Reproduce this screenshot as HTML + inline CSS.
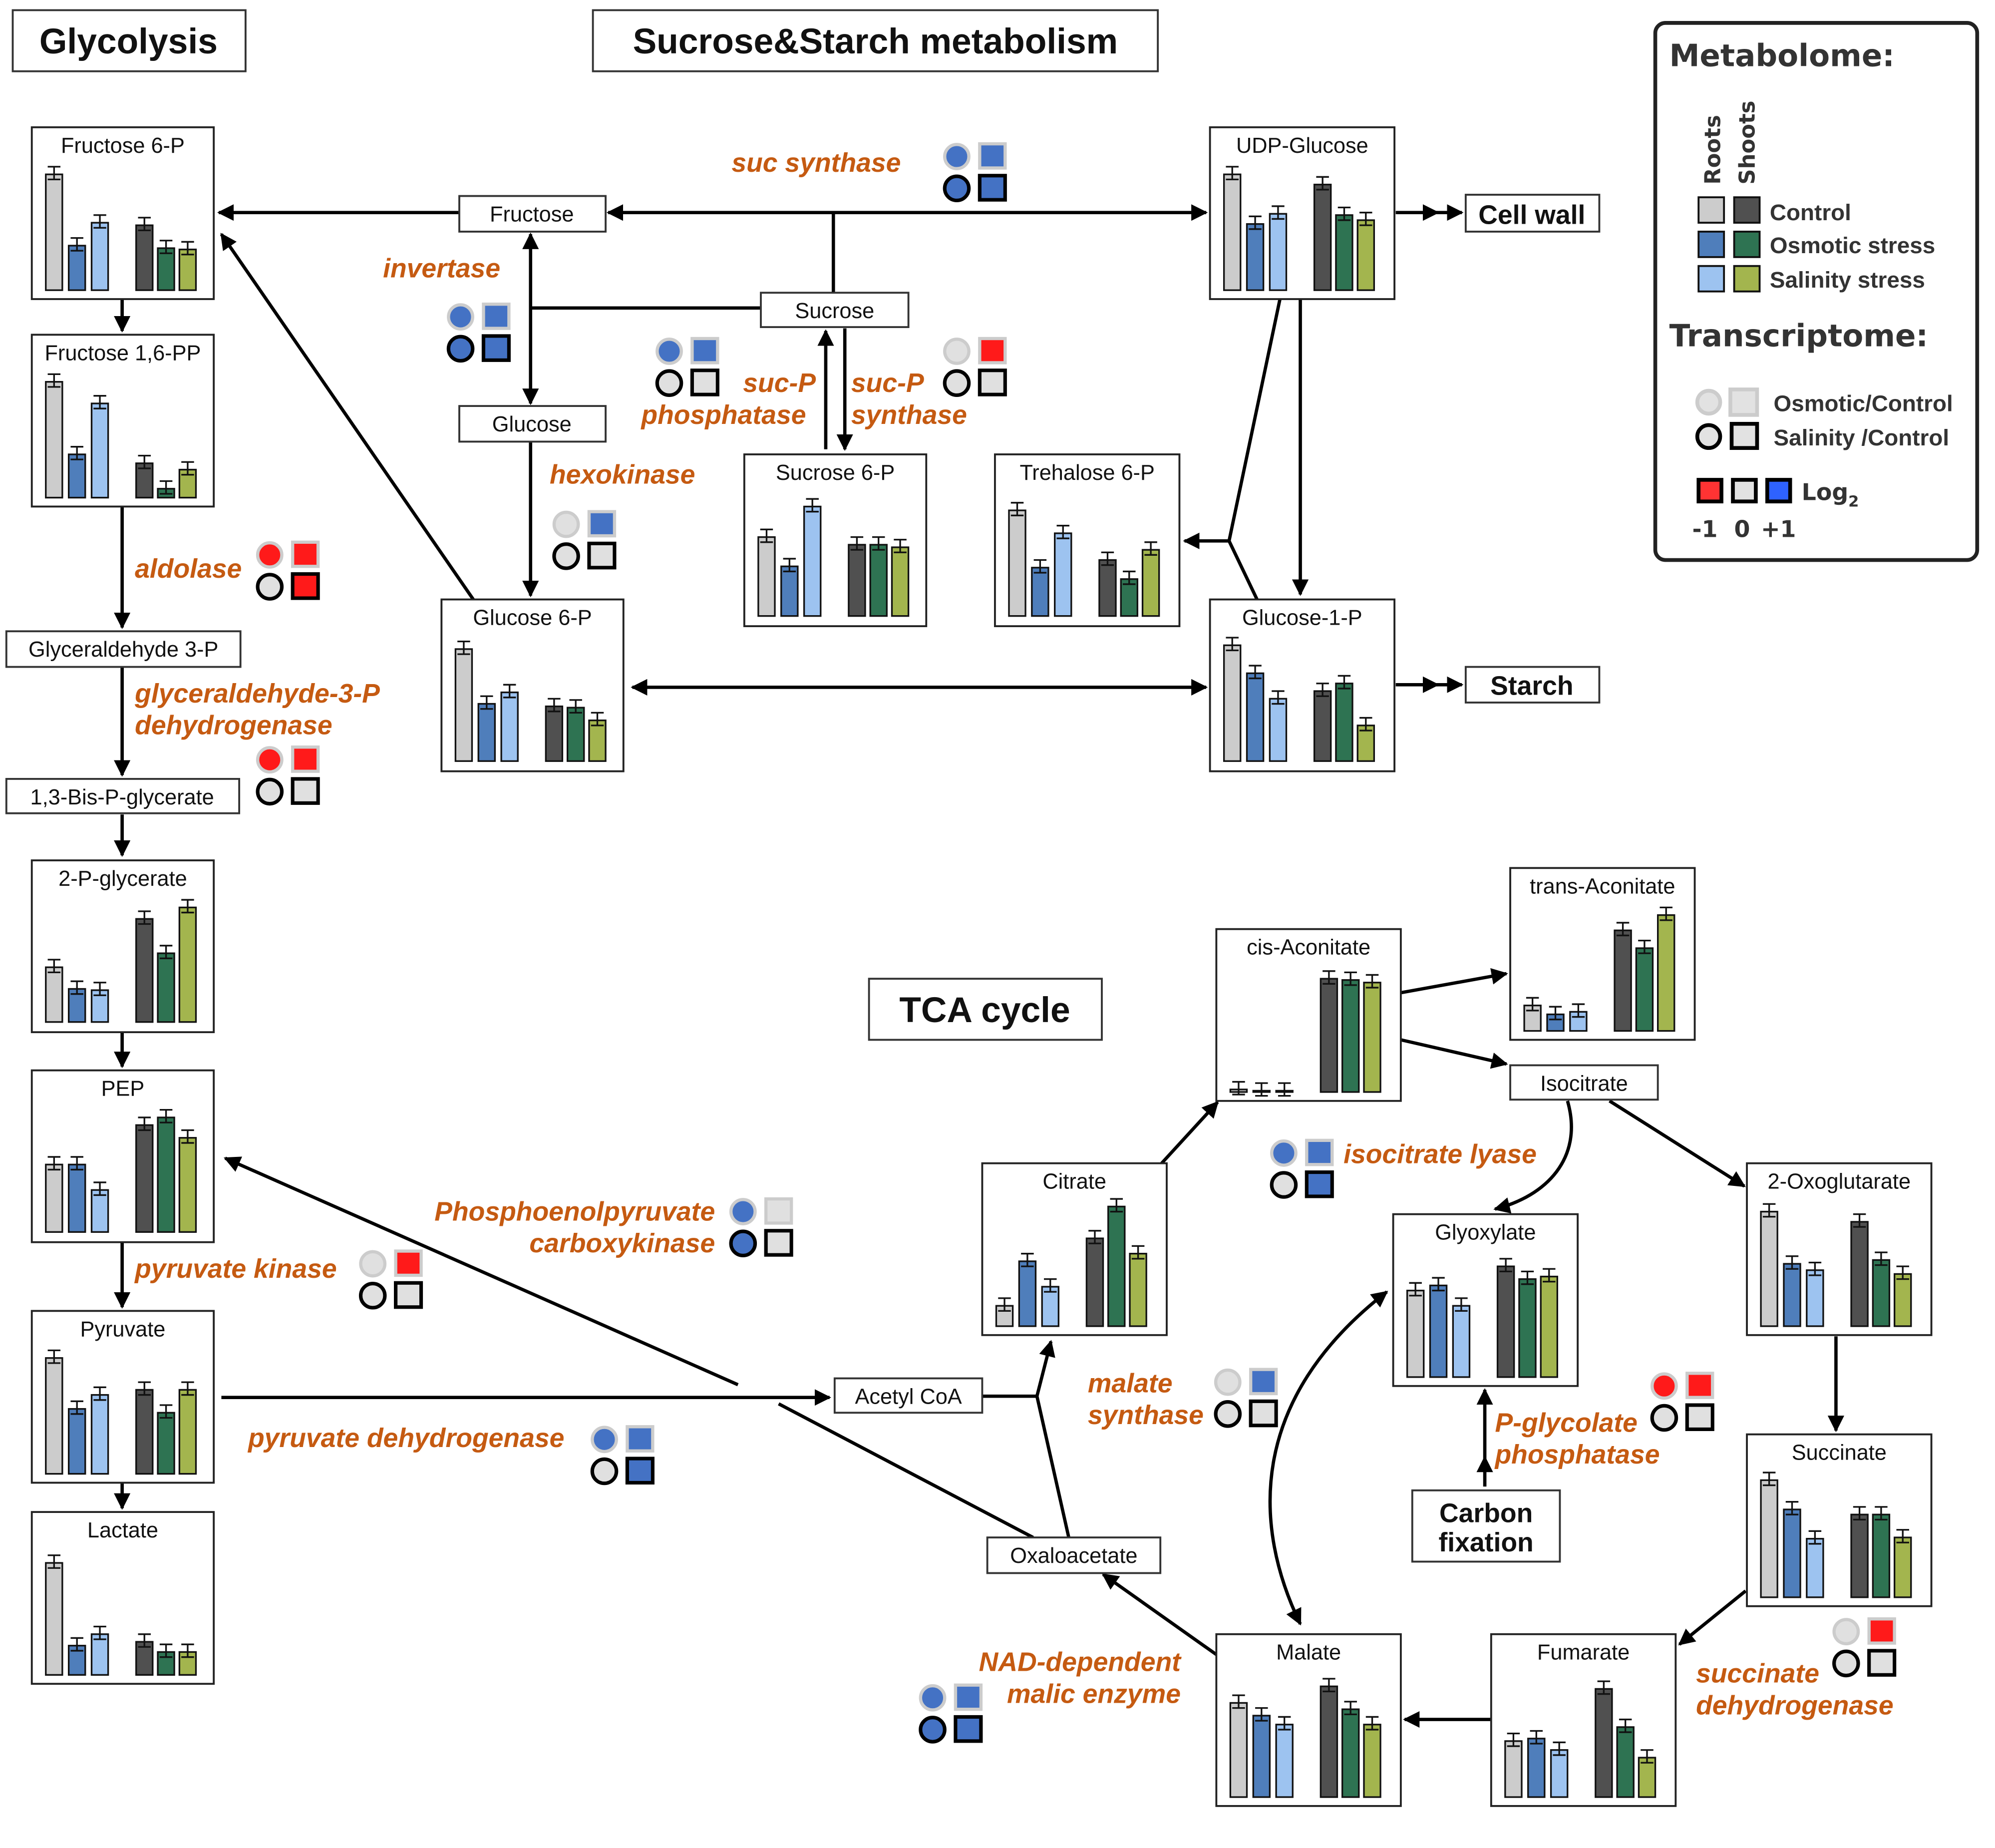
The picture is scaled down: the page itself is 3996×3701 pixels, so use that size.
<!DOCTYPE html>
<html><head><meta charset="utf-8"><style>
html,body{margin:0;padding:0;background:#fff}
svg{display:block}
text{font-family:"Liberation Sans",sans-serif}
.lbl{font-size:17px;fill:#111}
.enz{font-size:21px;font-weight:bold;font-style:italic;fill:#c55a11}
.ttl{font-size:28px;font-weight:bold;fill:#111}
.lg{font-family:"DejaVu Sans",sans-serif;font-weight:bold;fill:#333}
.ln{stroke:#000;stroke-width:2.6;fill:none}
</style></head><body>
<svg id="s" width="3996" height="3701" viewBox="0 0 1568 1452" preserveAspectRatio="none" xmlns="http://www.w3.org/2000/svg">
<defs>
<marker id="a" viewBox="0 0 10 10" refX="9" refY="5" markerWidth="5" markerHeight="5" orient="auto-start-reverse" markerUnits="strokeWidth"><path d="M0,0 L10,5 L0,10 z" fill="#000"/></marker>
</defs>
<rect width="1568" height="1452" fill="#fff"/>
<rect x="10" y="8" width="183" height="48" fill="#fff" stroke="#333" stroke-width="1.5"/>
<text x="101" y="42" text-anchor="middle" class="ttl">Glycolysis</text>
<rect x="466" y="8" width="444" height="48" fill="#fff" stroke="#333" stroke-width="1.5"/>
<text x="688" y="42" text-anchor="middle" class="ttl">Sucrose&amp;Starch metabolism</text>
<rect x="683" y="769" width="183" height="48" fill="#fff" stroke="#333" stroke-width="1.5"/>
<text x="774" y="803" text-anchor="middle" class="ttl">TCA cycle</text>

<g id="lines">
<line class="ln" x1="361" y1="167" x2="172" y2="167" marker-end="url(#a)"/>
<line class="ln" x1="478" y1="167" x2="948" y2="167" marker-start="url(#a)" marker-end="url(#a)"/>
<line class="ln" x1="655" y1="167" x2="655" y2="230"/>
<line class="ln" x1="598" y1="242" x2="417" y2="242"/>
<line class="ln" x1="417" y1="184" x2="417" y2="317" marker-start="url(#a)" marker-end="url(#a)"/>
<line class="ln" x1="649" y1="353" x2="649" y2="260" marker-end="url(#a)"/>
<line class="ln" x1="664" y1="258" x2="664" y2="353" marker-end="url(#a)"/>
<line class="ln" x1="417" y1="347" x2="417" y2="468" marker-end="url(#a)"/>
<line class="ln" x1="372" y1="471" x2="174" y2="184" marker-end="url(#a)"/>
<line class="ln" x1="497" y1="540" x2="948" y2="540" marker-start="url(#a)" marker-end="url(#a)"/>
<line class="ln" x1="1022" y1="235" x2="1022" y2="467" marker-end="url(#a)"/>
<polyline class="ln" points="1006,235 966,425 988,471"/>
<line class="ln" x1="966" y1="425" x2="931" y2="425" marker-end="url(#a)"/>
<line class="ln" x1="1097" y1="167" x2="1130" y2="167" marker-end="url(#a)"/>
<line class="ln" x1="1125" y1="167" x2="1149" y2="167" marker-end="url(#a)"/>
<line class="ln" x1="1097" y1="538" x2="1130" y2="538" marker-end="url(#a)"/>
<line class="ln" x1="1125" y1="538" x2="1149" y2="538" marker-end="url(#a)"/>
<line class="ln" x1="96" y1="235" x2="96" y2="260" marker-end="url(#a)"/>
<line class="ln" x1="96" y1="398" x2="96" y2="493" marker-end="url(#a)"/>
<line class="ln" x1="96" y1="524" x2="96" y2="609" marker-end="url(#a)"/>
<line class="ln" x1="96" y1="640" x2="96" y2="672" marker-end="url(#a)"/>
<line class="ln" x1="96" y1="811" x2="96" y2="838" marker-end="url(#a)"/>
<line class="ln" x1="96" y1="976" x2="96" y2="1027" marker-end="url(#a)"/>
<line class="ln" x1="96" y1="1165" x2="96" y2="1185" marker-end="url(#a)"/>
<line class="ln" x1="174" y1="1098" x2="652" y2="1098" marker-end="url(#a)"/>
<line class="ln" x1="580" y1="1088" x2="177" y2="910" marker-end="url(#a)"/>
<line class="ln" x1="612" y1="1103" x2="812" y2="1208"/>
<polyline class="ln" points="772,1097 815,1097"/>
<line class="ln" x1="840" y1="1208" x2="815" y2="1097"/>
<line class="ln" x1="815" y1="1097" x2="826" y2="1054" marker-end="url(#a)"/>
<line class="ln" x1="913" y1="914" x2="957" y2="866" marker-end="url(#a)"/>
<line class="ln" x1="1101" y1="780" x2="1184" y2="765" marker-end="url(#a)"/>
<line class="ln" x1="1101" y1="817" x2="1184" y2="836" marker-end="url(#a)"/>
<line class="ln" x1="1265" y1="865" x2="1371" y2="932" marker-end="url(#a)"/>
<path class="ln" d="M1232,865 C1245,910 1215,940 1175,950" marker-end="url(#a)"/>
<line class="ln" x1="1443" y1="1050" x2="1443" y2="1124" marker-end="url(#a)"/>
<line class="ln" x1="1372" y1="1250" x2="1320" y2="1292" marker-end="url(#a)"/>
<line class="ln" x1="1172" y1="1351" x2="1104" y2="1351" marker-end="url(#a)"/>
<line class="ln" x1="956" y1="1300" x2="867" y2="1237" marker-end="url(#a)"/>
<path class="ln" d="M1022,1276 C985,1200 980,1100 1090,1015" marker-start="url(#a)" marker-end="url(#a)"/>
<line class="ln" x1="1167" y1="1168" x2="1167" y2="1145" marker-end="url(#a)"/>
<line class="ln" x1="1167" y1="1145" x2="1167" y2="1092" marker-end="url(#a)"/>
</g>

<g fill="#fff" stroke="#333" stroke-width="1.5">
<rect x="361" y="154" width="115" height="28"/>
<rect x="598" y="230" width="116" height="27"/>
<rect x="361" y="319" width="115" height="28"/>
<rect x="5" y="496" width="184" height="28"/>
<rect x="5" y="612" width="183" height="27"/>
<rect x="656" y="1083" width="116" height="27"/>
<rect x="1187" y="837" width="116" height="27"/>
<rect x="776" y="1208" width="136" height="28"/>
<rect x="1152" y="153" width="105" height="29"/>
<rect x="1152" y="524" width="105" height="28"/>
<rect x="1110" y="1171" width="116" height="56"/>
</g>
<g class="lbl" text-anchor="middle">
<text x="418" y="174">Fructose</text>
<text x="656" y="250">Sucrose</text>
<text x="418" y="339">Glucose</text>
<text x="97" y="516">Glyceraldehyde 3-P</text>
<text x="96" y="632">1,3-Bis-P-glycerate</text>
<text x="714" y="1103">Acetyl CoA</text>
<text x="1245" y="857">Isocitrate</text>
<text x="844" y="1228">Oxaloacetate</text>
</g>
<g font-weight="bold" font-size="21" text-anchor="middle" fill="#111">
<text x="1204" y="176">Cell wall</text>
<text x="1204" y="546">Starch</text>
<text x="1168" y="1196">Carbon</text>
<text x="1168" y="1219">fixation</text>
</g>

<g id="boxes"></g>
<g id="icons"></g>

<g class="enz">
<text x="575" y="135">suc synthase</text>
<text x="301" y="218">invertase</text>
<text x="584" y="308">suc-P</text>
<text x="504" y="333">phosphatase</text>
<text x="669" y="308">suc-P</text>
<text x="669" y="333">synthase</text>
<text x="432" y="380">hexokinase</text>
<text x="106" y="454">aldolase</text>
<text x="106" y="552">glyceraldehyde-3-P</text>
<text x="106" y="577">dehydrogenase</text>
<text x="562" y="959" text-anchor="end">Phosphoenolpyruvate</text>
<text x="562" y="984" text-anchor="end">carboxykinase</text>
<text x="106" y="1004">pyruvate kinase</text>
<text x="195" y="1137">pyruvate dehydrogenase</text>
<text x="1056" y="914">isocitrate lyase</text>
<text x="855" y="1094">malate</text>
<text x="855" y="1119">synthase</text>
<text x="1175" y="1125">P-glycolate</text>
<text x="1175" y="1150">phosphatase</text>
<text x="1333" y="1322">succinate</text>
<text x="1333" y="1347">dehydrogenase</text>
<text x="928" y="1313" text-anchor="end">NAD-dependent</text>
<text x="928" y="1338" text-anchor="end">malic enzyme</text>
</g>

<rect x="1301" y="18" width="253" height="422" rx="8" fill="#fff" stroke="#222" stroke-width="3"/>
<text x="1312" y="52" class="lg" font-size="24">Metabolome:</text>
<text class="lg" font-size="17" font-weight="normal" transform="translate(1352,145) rotate(-90)">Roots</text>
<text class="lg" font-size="17" font-weight="normal" transform="translate(1379,145) rotate(-90)">Shoots</text>
<g stroke="#111" stroke-width="1.5">
<rect x="1335" y="155" width="20" height="20" fill="#cccccc"/><rect x="1363" y="155" width="20" height="20" fill="#505050"/>
<rect x="1335" y="182" width="20" height="20" fill="#4f7ebb"/><rect x="1363" y="182" width="20" height="20" fill="#2e7352"/>
<rect x="1335" y="209" width="20" height="20" fill="#9dc3f0"/><rect x="1363" y="209" width="20" height="20" fill="#a3b54e"/>
</g>
<g class="lg" font-size="18"><text x="1391" y="173">Control</text><text x="1391" y="199">Osmotic stress</text><text x="1391" y="226">Salinity stress</text></g>
<text x="1312" y="272" class="lg" font-size="24">Transcriptome:</text>
<circle cx="1343" cy="316" r="9" fill="#e2e2e2" stroke="#ccc" stroke-width="3"/>
<rect x="1360" y="306" width="21" height="20" fill="#e2e2e2" stroke="#ccc" stroke-width="3"/>
<circle cx="1343" cy="343" r="9" fill="#e2e2e2" stroke="#000" stroke-width="3"/>
<rect x="1361" y="333" width="20" height="19" fill="#e2e2e2" stroke="#000" stroke-width="3"/>
<g class="lg" font-size="18"><text x="1394" y="323">Osmotic/Control</text><text x="1394" y="350">Salinity /Control</text></g>
<g stroke="#000" stroke-width="3">
<rect x="1335" y="377" width="18" height="17" fill="#ff3333"/>
<rect x="1362" y="377" width="18" height="17" fill="#e2e2e2"/>
<rect x="1389" y="377" width="18" height="17" fill="#2e62ff"/>
</g>
<text x="1416" y="393" class="lg" font-size="18">Log<tspan font-size="12" dy="5">2</tspan></text>
<text x="1330" y="422" class="lg" font-size="18">-1</text>
<text x="1363" y="422" class="lg" font-size="18">0</text>
<text x="1384" y="422" class="lg" font-size="18">+1</text>
</svg>
<script>
var NS="http://www.w3.org/2000/svg";
function el(p,t,a,txt){var e=document.createElementNS(NS,t);for(var k in a)e.setAttribute(k,a[k]);if(txt)e.textContent=txt;p.appendChild(e);return e;}
var C=["#cccccc","#4f7ebb","#9dc3f0","#505050","#2e7352","#a3b54e"];
var OFF=[11,29,47,82,99,116];
var B=[
["Fructose 6-P",25,100,143,135,228,[91,35,53,51,33,32]],
["Fructose 1,6-PP",25,263,143,135,391,[91,34,74,27,7,22]],
["2-P-glycerate",25,676,143,135,803,[43,26,25,81,54,90]],
["PEP",25,841,143,135,968,[53,53,33,84,90,74]],
["Pyruvate",25,1030,143,135,1158,[91,51,62,66,48,66]],
["Lactate",25,1188,143,135,1316,[88,23,32,26,18,18]],
["Glucose 6-P",347,471,143,135,598,[88,45,54,43,42,32]],
["Sucrose 6-P",585,357,143,135,484,[62,39,86,56,56,54]],
["Trehalose 6-P",782,357,145,135,484,[83,38,65,44,29,52]],
["UDP-Glucose",951,100,145,135,228,[91,52,60,83,59,55]],
["Glucose-1-P",951,471,145,135,598,[91,69,49,55,61,28]],
["cis-Aconitate",956,730,145,135,858,[2,1,1,89,88,86]],
["trans-Aconitate",1187,682,145,135,810,[20,13,15,79,65,91]],
["Citrate",772,914,145,135,1042,[16,51,31,69,94,57]],
["Glyoxylate",1095,954,145,135,1082,[68,72,56,87,77,79]],
["2-Oxoglutarate",1373,914,145,135,1042,[90,49,44,82,52,41]],
["Succinate",1373,1127,145,135,1255,[92,69,46,65,65,47]],
["Fumarate",1172,1284,145,135,1412,[44,46,37,85,55,31]],
["Malate",956,1284,145,135,1412,[74,64,57,87,69,57]]];
var g=document.getElementById("boxes");
B.forEach(function(b){
 el(g,"rect",{x:b[1],y:b[2],width:b[3],height:b[4],fill:"#fff",stroke:"#222","stroke-width":1.5});
 el(g,"text",{x:b[1]+b[3]/2,y:b[2]+20,"text-anchor":"middle","class":"lbl"},b[0]);
 b[6].forEach(function(h,i){var x=b[1]+OFF[i],y=b[5]-h;
  el(g,"rect",{x:x,y:y,width:13,height:h,fill:C[i],stroke:"#111","stroke-width":1.3});
  var cx=x+6.5;el(g,"path",{d:"M"+(cx-5)+","+(y-6)+"h10M"+cx+","+(y-6)+"v10M"+(cx-5)+","+(y+4)+"h10",stroke:"#111","stroke-width":1.3,fill:"none"});
 });
});
var BL="#4472c4",RD="#ff1a1a",GR="#e0e0e0";
var I=[[752,123,BL,BL,BL,BL],[362,249,BL,BL,BL,BL],[526,276,BL,BL,GR,GR],[752,276,GR,RD,GR,GR],[445,412,GR,BL,GR,GR],
[212,436,RD,RD,GR,RD],[212,597,RD,RD,GR,GR],[584,952,BL,GR,BL,GR],[293,993,GR,RD,GR,GR],[475,1131,BL,BL,GR,BL],
[1009,906,BL,BL,GR,BL],[965,1086,GR,BL,GR,GR],[1308,1089,RD,RD,GR,GR],[1451,1282,GR,RD,GR,GR],[733,1334,BL,BL,BL,BL]];
var gi=document.getElementById("icons");
I.forEach(function(c){var x=c[0],y=c[1];
 el(gi,"circle",{cx:x,cy:y,r:9.5,fill:c[2],stroke:"#ccc","stroke-width":2.5});
 el(gi,"rect",{x:x+18,y:y-10,width:20,height:19,fill:c[3],stroke:"#ccc","stroke-width":2.5});
 el(gi,"circle",{cx:x,cy:y+25,r:9.5,fill:c[4],stroke:"#000","stroke-width":2.8});
 el(gi,"rect",{x:x+18,y:y+15,width:20,height:19,fill:c[5],stroke:"#000","stroke-width":2.8});
});
</script>
</body></html>
